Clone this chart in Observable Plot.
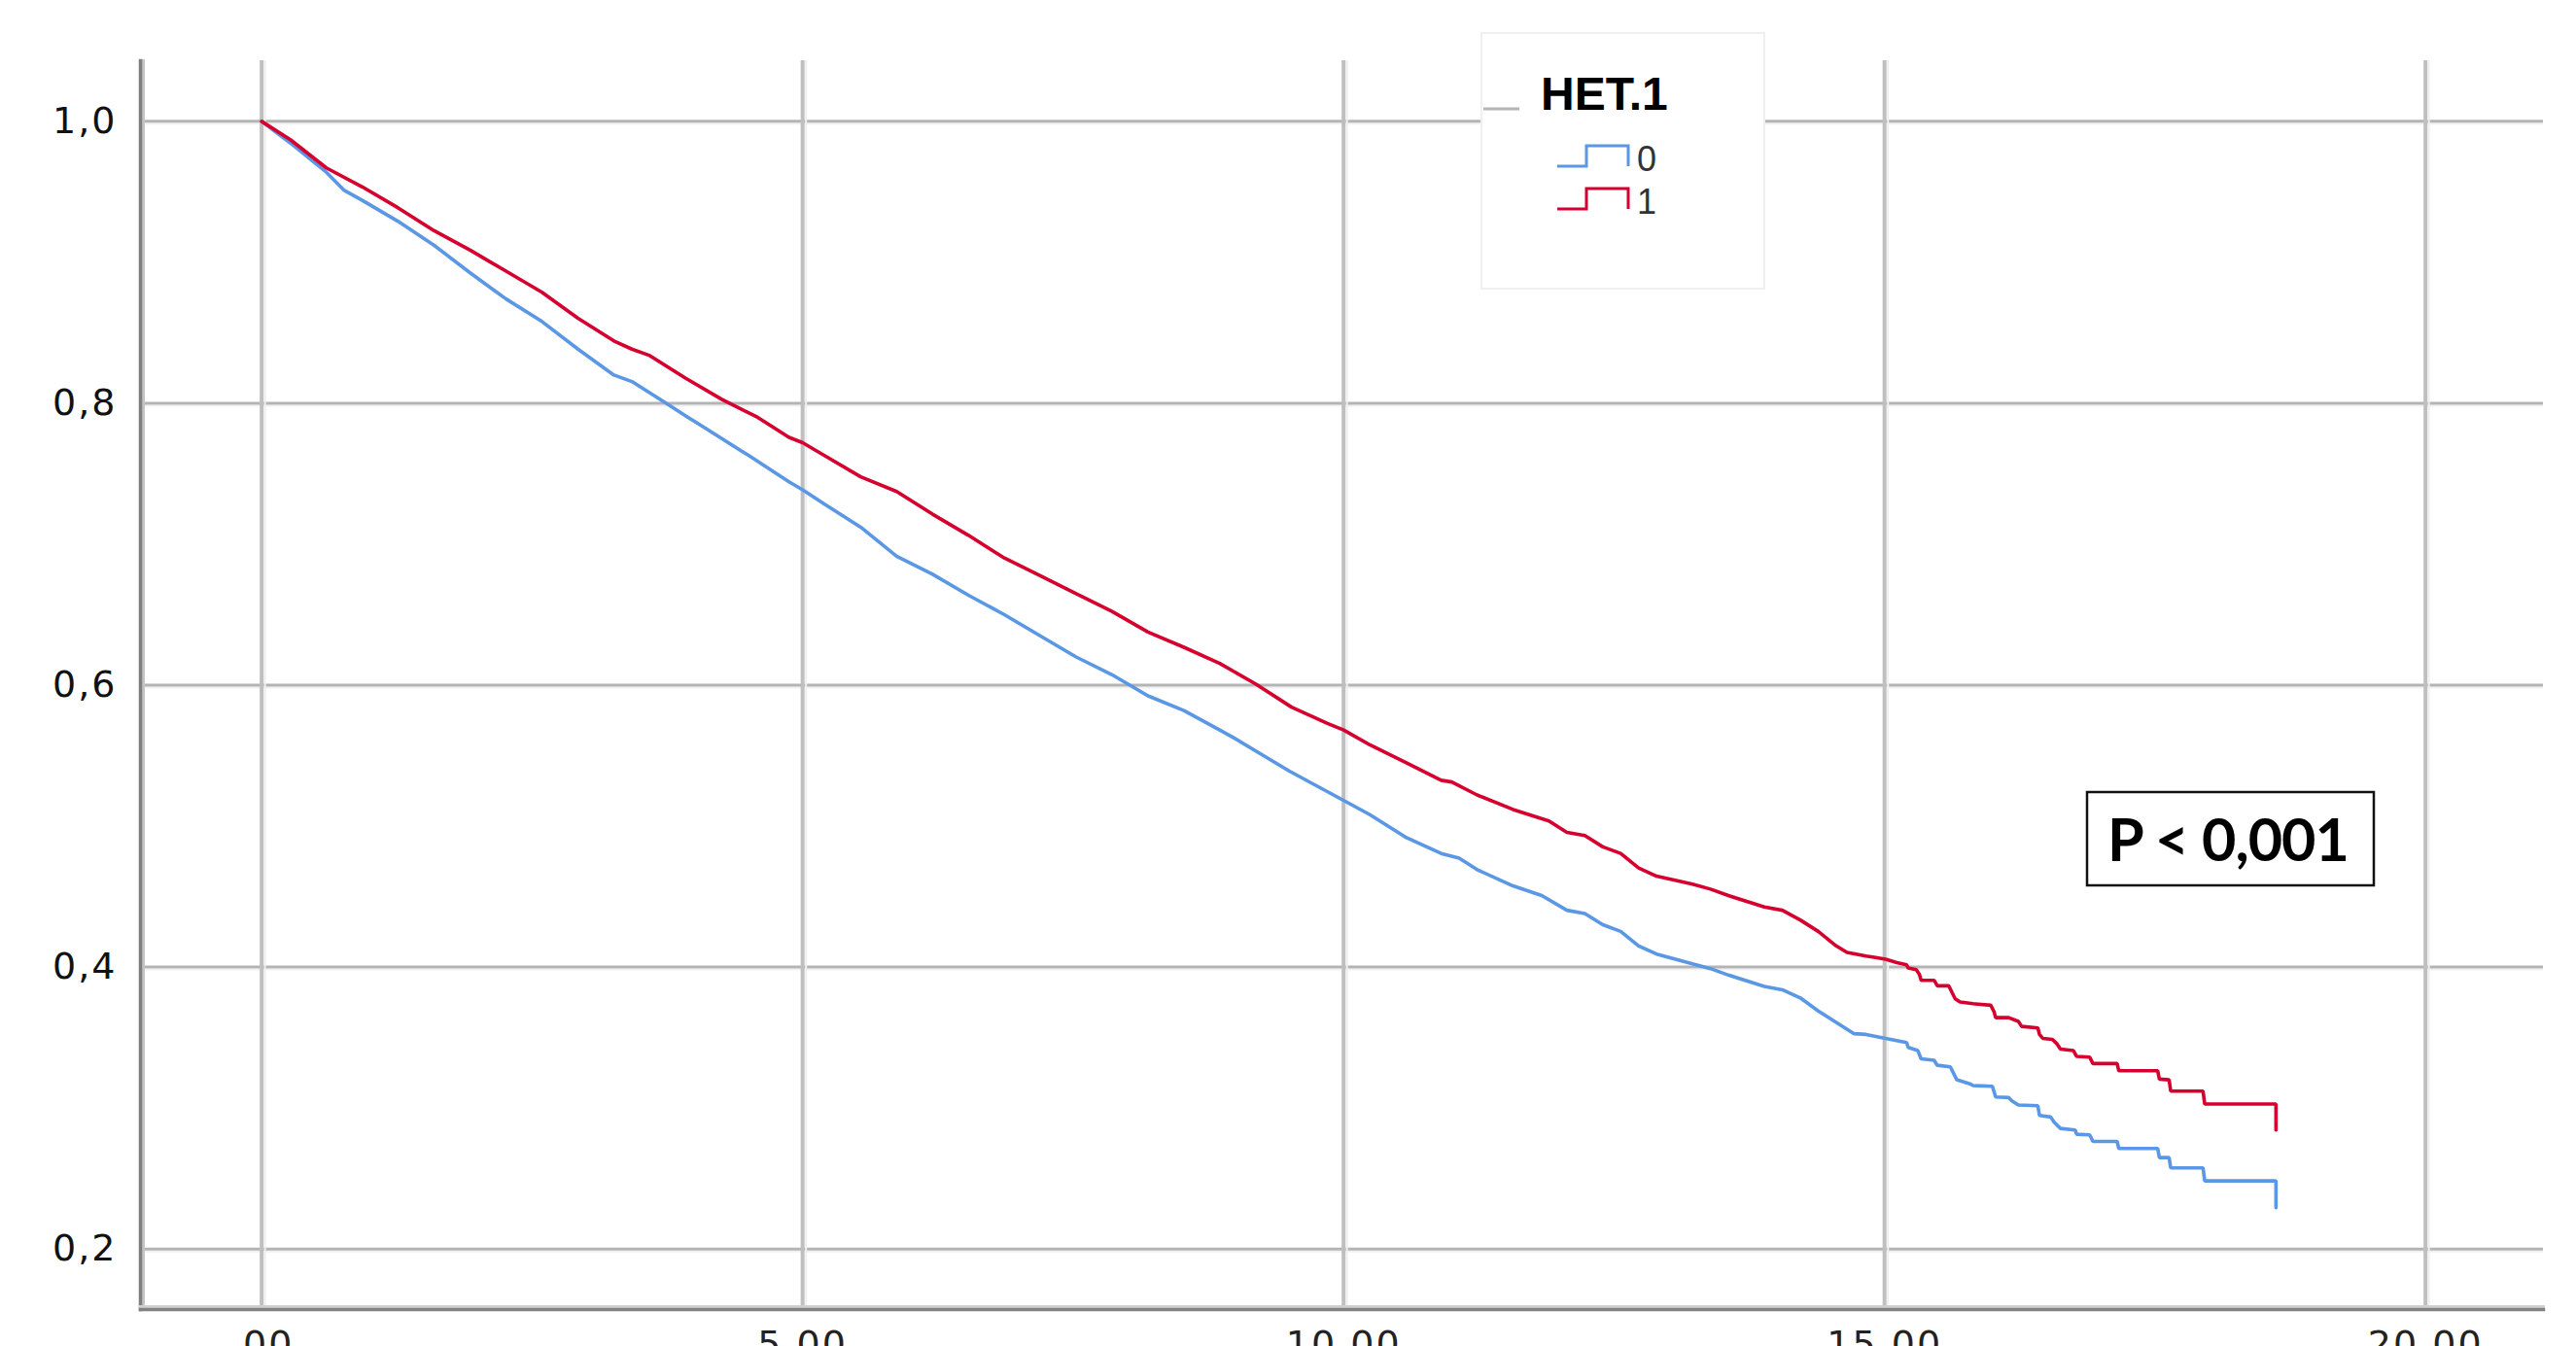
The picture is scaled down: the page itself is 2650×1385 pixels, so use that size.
<!DOCTYPE html>
<html>
<head>
<meta charset="utf-8">
<script src="https://cdn.jsdelivr.net/npm/d3@7"></script>
<script src="https://cdn.jsdelivr.net/npm/@observablehq/plot@0.6"></script>
<style>
  html, body { margin: 0; padding: 0; background: #fff; overflow: hidden; }
  svg { display: block; }
  g[aria-label="x-axis tick label"] text, g[aria-label="y-axis tick label"] text { letter-spacing: 2px; }
</style>
</head>
<body>
<div id="chart"></div>
<script>
// ---- data ----
const xTicks = [0, 5, 10, 15, 20];
const yTicks = [0.2, 0.4, 0.6, 0.8, 1.0];
const groups = ["0", "1"];
const groupColors = ["#5a97e4", "#d6002f"];
const legendTitle = "HET.1";
const pLabel = "P < 0,001";

// HET.1 = 0 (blue): [time, cumulative survival]
const het0Curve = [
  [0, 1.0], [0.266, 0.9846], [0.598, 0.9639], [0.764, 0.951], [0.93, 0.944], [1.262, 0.929],
  [1.595, 0.912], [1.927, 0.8925], [2.259, 0.874], [2.591, 0.858], [2.924, 0.8384], [3.256, 0.82],
  [3.422, 0.8154], [3.588, 0.8074], [3.754, 0.7993], [3.92, 0.791], [4.086, 0.783], [4.5, 0.763],
  [4.874, 0.7443], [5.0, 0.7386], [5.206, 0.7282], [5.537, 0.7121], [5.869, 0.6914], [6.201, 0.6787],
  [6.533, 0.6638], [6.865, 0.65], [7.196, 0.635], [7.528, 0.62], [7.86, 0.6074], [8.192, 0.5924],
  [8.524, 0.582], [8.855, 0.5682], [8.988, 0.5625], [9.5, 0.539], [9.907, 0.5221], [10.239, 0.5083],
  [10.571, 0.4922], [10.902, 0.4806], [11.068, 0.4772], [11.234, 0.4691], [11.566, 0.4576],
  [11.832, 0.4507], [12.064, 0.4403], [12.23, 0.438], [12.396, 0.43], [12.561, 0.4253],
  [12.727, 0.415], [12.893, 0.4092], [13.225, 0.4023], [13.391, 0.3989], [13.557, 0.3943],
  [13.889, 0.3862], [14.055, 0.3839], [14.221, 0.3781], [14.387, 0.3689], [14.553, 0.3608],
  [14.719, 0.3527], [14.829, 0.3522], [15.009, 0.3494], [15.204, 0.3464], [15.219, 0.343],
  [15.308, 0.3407], [15.338, 0.3349], [15.458, 0.3338], [15.488, 0.3303], [15.608, 0.3292],
  [15.638, 0.3246], [15.668, 0.32], [15.788, 0.3172], [15.818, 0.3159], [15.997, 0.3154],
  [16.027, 0.3078], [16.147, 0.3074], [16.177, 0.3051], [16.237, 0.3021], [16.417, 0.3016],
  [16.432, 0.2947], [16.536, 0.2936], [16.566, 0.2901], [16.626, 0.2855], [16.761, 0.2844],
  [16.776, 0.2814], [16.896, 0.2809], [16.926, 0.2763], [17.15, 0.2763], [17.165, 0.2713],
  [17.525, 0.2713], [17.54, 0.2648], [17.63, 0.2648], [17.645, 0.2575], [17.944, 0.2575],
  [17.959, 0.2483], [18.618, 0.2483], [18.618, 0.2292]
];

// HET.1 = 1 (red)
const het1Curve = [
  [0, 1.0], [0.266, 0.987], [0.598, 0.967], [0.93, 0.9535], [1.262, 0.9386], [1.595, 0.9224],
  [1.927, 0.9086], [2.259, 0.8937], [2.591, 0.8787], [2.924, 0.8603], [3.256, 0.8442],
  [3.422, 0.8384], [3.588, 0.8338], [3.92, 0.8177], [4.252, 0.8028], [4.585, 0.79], [4.874, 0.7758],
  [5.0, 0.772], [5.206, 0.7627], [5.537, 0.7478], [5.869, 0.7374], [6.201, 0.7213], [6.533, 0.7063],
  [6.865, 0.6902], [7.196, 0.6776], [7.528, 0.6649], [7.86, 0.6523], [8.192, 0.6377], [8.524, 0.6269],
  [8.855, 0.6154], [9.187, 0.6009], [9.519, 0.5844], [9.851, 0.5728], [10.0, 0.5682],
  [10.239, 0.5578], [10.571, 0.5452], [10.902, 0.5325], [11.0, 0.5313], [11.234, 0.5221],
  [11.566, 0.5118], [11.898, 0.5037], [12.064, 0.4956], [12.23, 0.4933], [12.396, 0.4853],
  [12.561, 0.4806], [12.727, 0.4703], [12.893, 0.4645], [13.225, 0.4588], [13.391, 0.4553],
  [13.557, 0.4507], [13.889, 0.4426], [14.055, 0.4403], [14.221, 0.4334], [14.387, 0.4253],
  [14.553, 0.415], [14.653, 0.4104], [14.829, 0.4078], [14.904, 0.4069], [15.009, 0.4055],
  [15.114, 0.4032], [15.204, 0.4016], [15.219, 0.3993], [15.293, 0.3982], [15.323, 0.3947],
  [15.338, 0.3906], [15.458, 0.3906], [15.488, 0.3867], [15.593, 0.3867], [15.623, 0.3821],
  [15.653, 0.3775], [15.698, 0.3752], [15.818, 0.374], [15.982, 0.3729], [16.012, 0.3683],
  [16.027, 0.3641], [16.147, 0.3641], [16.237, 0.3614], [16.267, 0.3579], [16.417, 0.3568],
  [16.432, 0.3522], [16.462, 0.3494], [16.551, 0.3487], [16.596, 0.3453], [16.626, 0.3418],
  [16.746, 0.3407], [16.776, 0.3366], [16.896, 0.3361], [16.926, 0.3315], [17.15, 0.3315],
  [17.165, 0.3264], [17.525, 0.3264], [17.54, 0.3205], [17.63, 0.32], [17.645, 0.312],
  [17.944, 0.312], [17.959, 0.3028], [18.618, 0.3028], [18.618, 0.2844]
];

// ---- build ----
const xFmt = d => d3.format(".2f")(d).replace(".", ",").replace(/^0(?=,)/, "");
const yFmt = d => d3.format(".1f")(d).replace(".", ",");

const rows = [
  ...het0Curve.map(([t, s]) => ({t, s, g: groups[0]})),
  ...het1Curve.map(([t, s]) => ({t, s, g: groups[1]}))
];

const W = 2650, H = 1385;
const chart = Plot.plot({
  width: W,
  height: H,
  marginLeft: 144,
  marginRight: 34,
  marginTop: 62,
  marginBottom: 38,
  x: {domain: [-1.12, 21.09], axis: null},
  y: {domain: [0.157, 1.043], axis: null},
  color: {domain: groups, range: groupColors},
  style: {background: "#fff", color: "#111", fontFamily: "'DejaVu Sans', sans-serif", overflow: "hidden"},
  marks: [
    Plot.ruleY(yTicks, {dy: 2.5, stroke: "#f1f1f1", strokeWidth: 2}),
    Plot.ruleY(yTicks, {stroke: "#b4b4b4", strokeWidth: 3}),
    Plot.ruleX(xTicks, {dx: 3.5, stroke: "#efefef", strokeWidth: 2}),
    Plot.ruleX(xTicks, {stroke: "#bfbfbf", strokeWidth: 4}),
    Plot.frame({anchor: "left", dx: 3, stroke: "#c4c4c4", strokeWidth: 3}),
    Plot.frame({anchor: "left", stroke: "#7f7f7f", strokeWidth: 3.5}),
    Plot.frame({anchor: "bottom", dy: -3, stroke: "#cfcfcf", strokeWidth: 3}),
    Plot.frame({anchor: "bottom", stroke: "#828282", strokeWidth: 3.5}),
    Plot.line(rows, {x: "t", y: "s", z: "g", stroke: "g", strokeWidth: 3.6, strokeLinejoin: "miter"}),
    Plot.axisY(yTicks, {anchor: "left", label: null, tickSize: 0, tickPadding: 24, tickFormat: yFmt, fontSize: 38, fill: "#111"}),
    Plot.axisX(xTicks, {anchor: "bottom", label: null, tickSize: 0, tickPadding: 22, tickFormat: xFmt, fontSize: 38, fill: "#222"})
  ]
});
document.getElementById("chart").appendChild(chart);

// ---- legend (inside the plot area, opaque box) ----
const svg = d3.select(chart);
const lg = svg.append("g").attr("font-family", "'Liberation Sans', Arial, sans-serif").attr("text-anchor", "start");
lg.append("rect").attr("x", 1524).attr("y", 34).attr("width", 291).attr("height", 263)
  .attr("fill", "#fff").attr("stroke", "#efefef").attr("stroke-width", 2);
lg.append("line").attr("x1", 1526).attr("x2", 1563).attr("y1", 112).attr("y2", 112)
  .attr("stroke", "#b4b4b4").attr("stroke-width", 3);
lg.append("text").attr("x", 1585).attr("y", 113).attr("font-size", 48).attr("font-weight", "bold")
  .attr("fill", "#000").text(legendTitle);
groups.forEach((g, i) => {
  const top = 150 + i * 44, bot = top + 21;
  lg.append("path").attr("d", `M1602,${bot}H1632V${top}H1675V${bot}`)
    .attr("fill", "none").attr("stroke", groupColors[i]).attr("stroke-width", 3);
  lg.append("text").attr("x", 1684).attr("y", bot + 5).attr("font-size", 36)
    .attr("fill", "#333").text(g);
});

// ---- p-value box ----
const pb = svg.append("g").attr("text-anchor", "start");
pb.append("rect").attr("x", 2147).attr("y", 815).attr("width", 295).attr("height", 96)
  .attr("fill", "#fff").attr("stroke", "#111").attr("stroke-width", 2.5);
pb.append("text").attr("x", 2168).attr("y", 886).attr("font-family", "Lato, 'Open Sans', sans-serif")
  .attr("font-weight", "bold").attr("font-size", 61).attr("letter-spacing", "-1px")
  .attr("fill", "#000").text(pLabel);
</script>
</body>
</html>
